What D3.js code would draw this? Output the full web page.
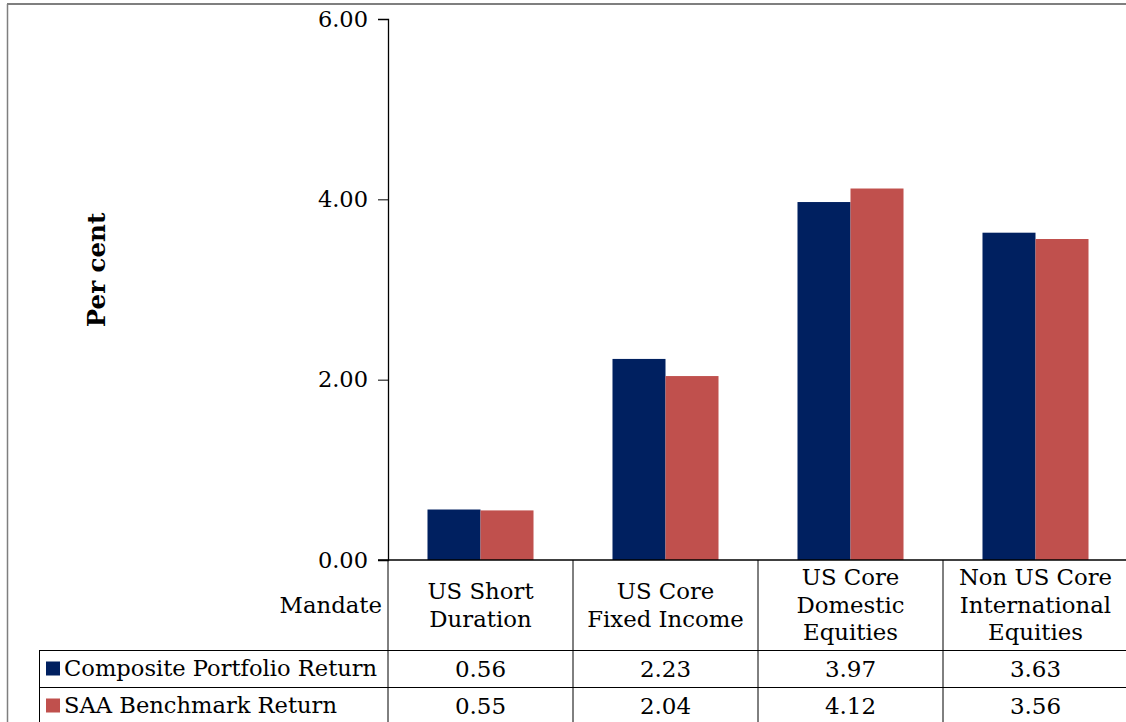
<!DOCTYPE html>
<html lang="en">
<head>
    <meta charset="UTF-8">
    <title>Mandate returns</title>
    <script src="https://d3js.org/d3.v7.min.js"></script>
    <style>
        body { margin: 0; background: #fff; }
        text { font-family: "DejaVu Serif", "Liberation Serif", serif; fill: #000; }
    </style>
</head>
<body>
    <script>
        const categories = [
            ["US Short", "Duration"],
            ["US Core", "Fixed Income"],
            ["US Core", "Domestic", "Equities"],
            ["Non US Core", "International", "Equities"]
        ];
        const seriesNames = ["Composite Portfolio Return", "SAA Benchmark Return"];
        const composite = [0.56, 2.23, 3.97, 3.63];
        const benchmark = [0.55, 2.04, 4.12, 3.56];
        const yTicks = [0, 2, 4, 6];
        const colors = ["#002060", "#C0504D"];

        const width = 1126;
        const height = 722;
        const plotLeft = 388, plotRight = 1128, plotTop = 19, plotBottom = 560;
        const tableLeft = 39;
        const rowLines = [650, 687, 724];

        const svg = d3.select("body")
            .append("svg")
            .attr("width", width)
            .attr("height", height);

        // outer frame
        svg.append("line")
            .attr("x1", 7).attr("x2", width).attr("y1", 4).attr("y2", 4)
            .attr("stroke", "#7f7f7f").attr("stroke-width", 2);
        svg.append("line")
            .attr("x1", 7.5).attr("x2", 7.5).attr("y1", 4).attr("y2", height)
            .attr("stroke", "#7f7f7f").attr("stroke-width", 1.5);

        const idx = categories.map((d, i) => i);
        const x = d3.scaleBand().domain(idx).range([plotLeft, plotRight]).paddingInner(0).paddingOuter(0);
        const xInner = d3.scaleBand().domain([0, 1]).range([0, x.bandwidth()]).paddingOuter(0.745).paddingInner(0);
        const y = d3.scaleLinear().domain([0, 6]).range([plotBottom, plotTop]);

        const data = idx.map(i => [composite[i], benchmark[i]]);

        // bars
        const groups = svg.append("g").selectAll("g")
            .data(data)
            .enter().append("g")
            .attr("transform", (d, i) => `translate(${x(i)},0)`);
        groups.selectAll("rect")
            .data(d => d)
            .enter().append("rect")
            .attr("x", (d, j) => xInner(j))
            .attr("width", xInner.bandwidth())
            .attr("y", d => y(d))
            .attr("height", d => y(0) - y(d))
            .attr("fill", (d, j) => colors[j]);

        // y axis
        const yAxis = d3.axisLeft(y).tickValues(yTicks).tickFormat(d3.format(".2f")).tickSize(10).tickPadding(10);
        const yg = svg.append("g")
            .attr("transform", `translate(${plotLeft},0)`)
            .call(yAxis);
        yg.select(".domain").attr("stroke", "#000").attr("stroke-width", 1.3);
        yg.selectAll(".tick line").attr("stroke", "#000");
        yg.selectAll(".tick text")
            .style("font-family", "DejaVu Serif")
            .style("font-size", "22.5px")
            .attr("fill", "#000");

        // zero line
        svg.append("line")
            .attr("x1", plotLeft - 10).attr("x2", plotRight)
            .attr("y1", y(0)).attr("y2", y(0))
            .attr("stroke", "#000").attr("stroke-width", 1.5);

        // y title
        svg.append("text")
            .attr("transform", "translate(105,270) rotate(-90)")
            .attr("text-anchor", "middle")
            .style("font-size", "24.5px")
            .style("font-weight", "bold")
            .text("Per cent");

        // data table grid
        const grid = svg.append("g").attr("stroke", "#000").attr("stroke-width", 1);
        idx.concat([idx.length]).forEach(i => {
            const xx = i < idx.length ? x(i) : plotRight;
            grid.append("line")
                .attr("x1", xx).attr("x2", xx)
                .attr("y1", plotBottom).attr("y2", height);
        });
        grid.append("line")
            .attr("x1", tableLeft + 0.5).attr("x2", tableLeft + 0.5)
            .attr("y1", rowLines[0]).attr("y2", height);
        rowLines.slice(0, 2).forEach(r => {
            grid.append("line")
                .attr("x1", tableLeft).attr("x2", width)
                .attr("y1", r + 0.5).attr("y2", r + 0.5);
        });

        // category labels
        const lineH = 27.5;
        const catMid = (plotBottom + rowLines[0]) / 2;
        categories.forEach((lines, i) => {
            const t = svg.append("text")
                .attr("text-anchor", "middle")
                .style("font-size", "22.8px");
            lines.forEach((s, k) => {
                t.append("tspan")
                    .attr("x", x(i) + x.bandwidth() / 2)
                    .attr("y", catMid + (k - (lines.length - 1) / 2) * lineH)
                    .attr("dy", "0.35em")
                    .text(s);
            });
        });
        svg.append("text")
            .attr("x", plotLeft - 6)
            .attr("y", catMid)
            .attr("dy", "0.35em")
            .attr("text-anchor", "end")
            .style("font-size", "22.8px")
            .text("Mandate");

        // series rows
        const rowTop = [rowLines[0], rowLines[1]];
        const rowMid = rowTop.map((r, k) => (r + rowLines[k + 1]) / 2);
        [composite, benchmark].forEach((vals, k) => {
            svg.append("rect")
                .attr("x", 46).attr("y", rowMid[k] - 7)
                .attr("width", 14).attr("height", 14)
                .attr("fill", colors[k]);
            svg.append("text")
                .attr("x", 64).attr("y", rowMid[k])
                .attr("dy", "0.35em")
                .style("font-size", "22.6px")
                .text(seriesNames[k]);
            vals.forEach((v, i) => {
                svg.append("text")
                    .attr("x", x(i) + x.bandwidth() / 2)
                    .attr("y", rowMid[k])
                    .attr("dy", "0.35em")
                    .attr("text-anchor", "middle")
                    .style("font-size", "23px")
                    .text(d3.format(".2f")(v));
            });
        });
    </script>
</body>
</html>
